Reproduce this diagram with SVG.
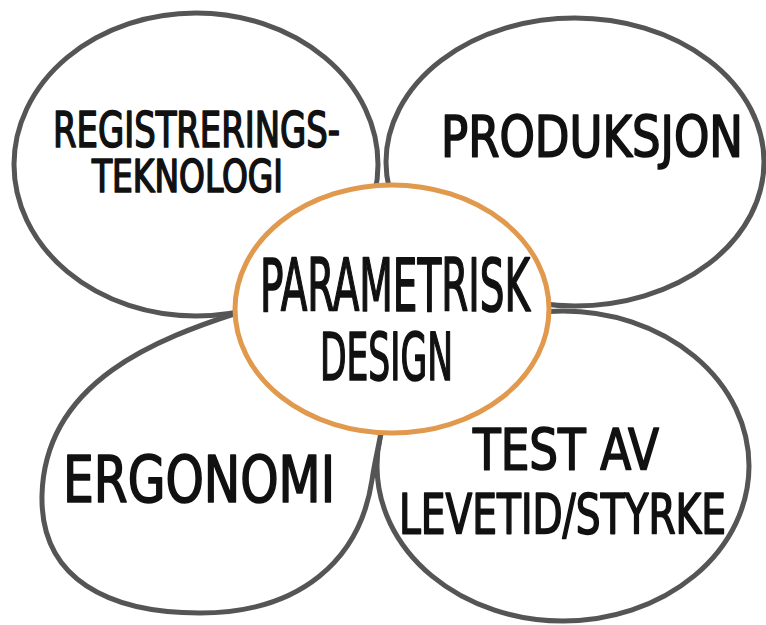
<svg xmlns="http://www.w3.org/2000/svg" width="766" height="625" viewBox="0 0 766 625">
  <style>
    .petal { fill: #ffffff; stroke: #555555; stroke-width: 5; stroke-linejoin: round; stroke-linecap: round; }
    .hub { fill: #ffffff; stroke: #E1994D; stroke-width: 5; }
    .lbl { font-family: "DejaVu Sans", "Liberation Sans", sans-serif; font-stretch: condensed; fill: #111111; stroke: #111111; stroke-width: 1.7; stroke-linejoin: round; }
  </style>
  <rect width="766" height="625" fill="#ffffff"/>

  <!-- outer petals, drawn beneath the hub -->
  <g id="node-registrering">
    <ellipse class="petal" cx="196" cy="164.5" rx="182" ry="151.5"/>
    <text class="lbl" x="53" y="147" font-size="50" textLength="287" lengthAdjust="spacingAndGlyphs">REGISTRERINGS-</text>
    <text class="lbl" x="92" y="192" font-size="45" textLength="191" lengthAdjust="spacingAndGlyphs">TEKNOLOGI</text>
  </g>

  <g id="node-produksjon">
    <ellipse class="petal" cx="575" cy="162" rx="189" ry="144"/>
    <text class="lbl" x="441" y="157" font-size="57" textLength="302" lengthAdjust="spacingAndGlyphs">PRODUKSJON</text>
  </g>

  <g id="node-test">
    <ellipse class="petal" cx="563" cy="466" rx="186" ry="155"/>
    <text class="lbl" x="473" y="470" font-size="57" textLength="186" lengthAdjust="spacingAndGlyphs">TEST AV</text>
    <text class="lbl" x="399" y="533" font-size="55" textLength="327" lengthAdjust="spacingAndGlyphs">LEVETID/STYRKE</text>
  </g>

  <g id="node-ergonomi">
    <path class="petal" d="M 240,312 C 160,338 45,380 42,495 C 40,580 110,613 200,613 C 300,613 360,560 372,480 C 375,460 378,450 381,432"/>
    <text class="lbl" x="63" y="502" font-size="64" textLength="272" lengthAdjust="spacingAndGlyphs">ERGONOMI</text>
  </g>

  <!-- central hub -->
  <g id="node-parametrisk">
    <ellipse class="hub" cx="392" cy="309" rx="157" ry="124"/>
    <text class="lbl" x="260" y="311" font-size="73" textLength="270" lengthAdjust="spacingAndGlyphs">PARAMETRISK</text>
    <text class="lbl" x="320" y="380" font-size="66" textLength="133" lengthAdjust="spacingAndGlyphs">DESIGN</text>
  </g>

  <g id="connectors"/>
</svg>
